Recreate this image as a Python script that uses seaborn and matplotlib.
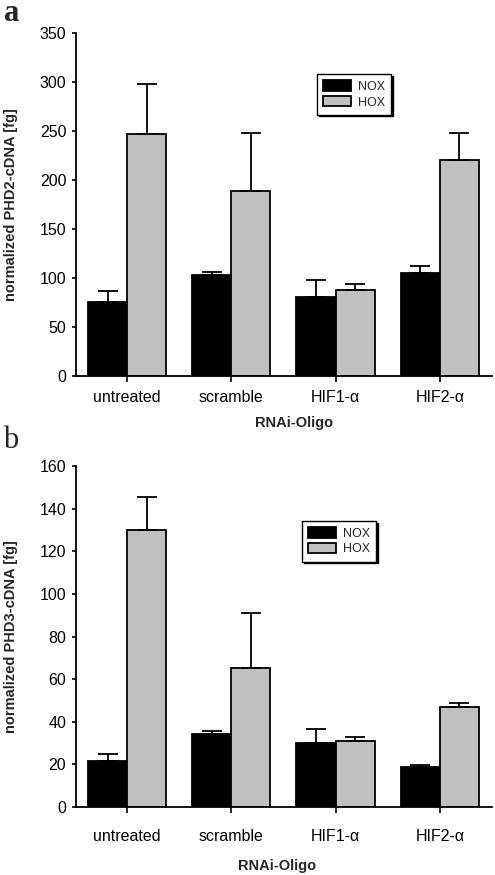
import matplotlib
matplotlib.use("Agg")
import matplotlib.pyplot as plt
import seaborn as sns
import pandas as pd
import numpy as np

categories = ["untreated", "scramble", "HIF1-α", "HIF2-α"]
conditions = ["NOX", "HOX"]

phd2_nox = [75, 103, 81, 105]
phd2_hox = [247, 189, 88, 220]
phd2_nox_err = [12, 3, 17, 7]
phd2_hox_err = [51, 59, 6, 28]

phd3_nox = [21.6, 34.4, 30.2, 18.6]
phd3_hox = [130, 65.3, 30.8, 47.1]
phd3_nox_err = [3.4, 1.3, 6.3, 1.3]
phd3_hox_err = [15.7, 25.7, 1.9, 1.6]

sns.set_style("ticks")
plt.rcParams['font.family'] = ['Liberation Sans', 'DejaVu Sans']

fig = plt.figure(figsize=(4.95, 8.75), dpi=100)
ax_a = fig.add_axes([0.1535, 0.5703, 0.8404, 0.392])
ax_b = fig.add_axes([0.1535, 0.0777, 0.8404, 0.3897])

palette = {"NOX": "#000000", "HOX": "#c0c0c0"}


def panel(ax, nox, hox, nox_err, hox_err, ylim, step, ylabel, xpad, xlabel_xy, legend_anchor):
    df = pd.DataFrame({
        "cat": categories * 2,
        "cond": ["NOX"] * 4 + ["HOX"] * 4,
        "val": list(nox) + list(hox),
    })
    errs = list(nox_err) + list(hox_err)
    sns.barplot(data=df, x="cat", y="val", hue="cond", order=categories,
                hue_order=conditions, palette=palette, errorbar=None,
                width=0.75, edgecolor="black", linewidth=1.3, ax=ax, saturation=1)
    xs, ys = [], []
    for cont in ax.containers:
        for p in cont:
            xs.append(p.get_x() + p.get_width() / 2)
            ys.append(p.get_height())
    ax.errorbar(xs, ys, yerr=[np.zeros(len(errs)), errs], fmt="none",
                ecolor="black", elinewidth=1.3, capsize=7.5, capthick=1.3, zorder=5)
    ax.set_ylim(*ylim)
    ax.set_yticks(np.arange(ylim[0], ylim[1] + step / 2, step))
    ax.set_xlim(-0.49, 3.5)
    for s in ["top", "right"]:
        ax.spines[s].set_visible(False)
    for s in ["left", "bottom"]:
        ax.spines[s].set_linewidth(1.3)
        ax.spines[s].set_color("black")
    ax.tick_params(axis="both", colors="black", labelsize=11.5, width=1.2)
    ax.tick_params(axis="y", length=3, pad=4)
    ax.tick_params(axis="x", length=4, pad=xpad)
    ax.set_ylabel(ylabel, fontsize=10.5, fontweight="bold")
    ax.yaxis.set_label_coords(-0.139, 0.5)
    ax.set_xlabel("RNAi-Oligo", fontsize=10.5, fontweight="bold")
    ax.xaxis.set_label_coords(*xlabel_xy)
    leg = ax.legend(loc="upper left", bbox_to_anchor=legend_anchor, frameon=True,
                    fancybox=False, edgecolor="black", fontsize=9, handlelength=2.2,
                    handleheight=0.9, borderpad=0.5, labelspacing=0.25, handletextpad=0.6,
                    borderaxespad=0, framealpha=1,
                    shadow={"ox": 1.2, "oy": -1.2, "color": "black", "alpha": 1})
    leg.get_frame().set_linewidth(1.0)
    leg.set_title(None)


panel(ax_a, phd2_nox, phd2_hox, phd2_nox_err, phd2_hox_err, (0, 350), 50,
      "normalized PHD2-cDNA [fg]", 6, (0.524, -0.118), (0.579, 0.880))
panel(ax_b, phd3_nox, phd3_hox, phd3_nox_err, phd3_hox_err, (0, 160), 20,
      "normalized PHD3-cDNA [fg]", 12, (0.483, -0.152), (0.543, 0.839))

fig.text(0.008, 1 - 21 / 875, "a", family="Liberation Serif", fontsize=22,
         fontweight="bold", va="baseline")
fig.text(0.006, 1 - 448 / 875, "b", family="Liberation Serif", fontsize=22,
         va="baseline")

fig.savefig("out.png", dpi=100)
